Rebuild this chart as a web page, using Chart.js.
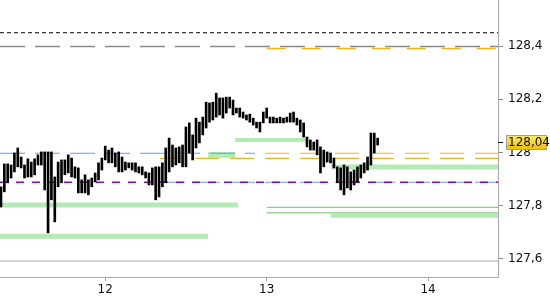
<!DOCTYPE html>
<html>
<head>
<meta charset="utf-8">
<script src="https://cdn.jsdelivr.net/npm/chart.js@4.4.1/dist/chart.umd.min.js"></script>
<style>
  html, body { margin: 0; padding: 0; background: #fff; }
  #wrap { width: 550px; height: 300px; }
</style>
</head>
<body>
<div id="wrap"><canvas id="myChart" width="550" height="300"></canvas></div>
<script>
// 30 minute bars, first bar starts on day 11
const firstBar = 11.354;
const barStep = 1 / 48;

const highs = [
  127.871, 127.957, 127.957, 127.953, 127.998, 128.017, 127.983, 127.953, 127.976, 127.964,
  127.976, 127.991, 128.002, 128.002, 128.002, 128.002, 127.908, 127.964, 127.972, 127.972,
  127.991, 127.979, 127.946, 127.942, 127.897, 127.916, 127.897, 127.904, 127.923, 127.961,
  127.979, 128.024, 128.009, 128.017, 127.998, 128.002, 127.983, 127.964, 127.961, 127.961,
  127.961, 127.946, 127.946, 127.927, 127.923, 127.942, 127.946, 127.946, 127.961, 128.017,
  128.054, 128.028, 128.017, 128.021, 128.028, 128.096, 128.111, 128.066, 128.129, 128.114,
  128.133, 128.189, 128.186, 128.189, 128.223, 128.205, 128.205, 128.208, 128.208, 128.197,
  128.167, 128.167, 128.152, 128.141, 128.144, 128.129, 128.114, 128.114, 128.152, 128.167,
  128.133, 128.133, 128.129, 128.133, 128.129, 128.133, 128.148, 128.152, 128.129, 128.122,
  128.111, 128.058, 128.047, 128.039, 128.047, 128.021, 128.009, 128.002, 127.998, 127.979,
  127.946, 127.942, 127.953, 127.946, 127.927, 127.934, 127.946, 127.953, 127.961, 127.983,
  128.073, 128.073, 128.054
];
const lows = [
  127.795, 127.852, 127.886, 127.904, 127.927, 127.946, 127.942, 127.904, 127.908, 127.908,
  127.916, 127.953, 127.953, 127.859, 127.698, 127.822, 127.739, 127.871, 127.886, 127.916,
  127.923, 127.908, 127.904, 127.848, 127.848, 127.848, 127.841, 127.871, 127.889, 127.897,
  127.934, 127.972, 127.961, 127.961, 127.946, 127.927, 127.927, 127.934, 127.942, 127.934,
  127.927, 127.923, 127.916, 127.904, 127.878, 127.878, 127.822, 127.833, 127.871, 127.886,
  127.927, 127.946, 127.953, 127.961, 127.946, 127.946, 127.998, 127.972, 128.017, 128.036,
  128.066, 128.092, 128.114, 128.122, 128.133, 128.141, 128.129, 128.148, 128.167, 128.141,
  128.148, 128.133, 128.129, 128.122, 128.114, 128.103, 128.092, 128.077, 128.111, 128.129,
  128.111, 128.111, 128.111, 128.111, 128.111, 128.114, 128.114, 128.114, 128.103, 128.077,
  128.058, 128.021, 128.009, 128.009, 127.991, 127.923, 127.946, 127.964, 127.961, 127.942,
  127.886, 127.859, 127.841, 127.867, 127.859, 127.878, 127.889, 127.904, 127.923, 127.934,
  127.953, 127.998, 128.028
];

const lastPrice = 128.04;
const xMin = 11.348, xMax = 14.433;
const yMin = 127.532, yMax = 128.573;
const dayTicks = [12, 13, 14];
const priceTicks = [127.6, 127.8, 128, 128.2, 128.4];

// horizontal levels: price, from, to
const levelPrices = [128.450, 128.398, 128.391, 128.047, 127.997, 127.997, 127.978, 127.991, 127.945, 127.888, 127.888, 127.803, 127.794, 127.773, 127.762, 127.685, 127.592];
const levelFrom   = [xMin,    xMin,    13.0,    12.804,  xMin,    12.99,   12.339,  12.637,  13.399,  xMin,    12.339,  xMin,    13.0,    13.0,    13.399,  xMin,    xMin];
const levelTo     = [xMax,    xMax,    xMax,    13.25,   12.928,  xMax,    xMax,    12.804,  xMax,    xMax,    xMax,    12.823,  xMax,    xMax,    xMax,    12.637,  xMax];
const levelStyle = [
  { c: '#000000', w: 1, d: [4, 3] },
  { c: '#8a8a8a', w: 1.5, d: [25, 10] },
  { c: '#f7b21c', w: 1.5, d: [19, 16] },
  { c: '#b4eab4', w: 4, d: [] },
  { c: '#6a9cf0', w: 1.2, d: [25, 10] },
  { c: '#f7b21c', w: 1.2, d: [24, 11] },
  { c: '#f7b21c', w: 1.2, d: [24, 11] },
  { c: '#b4eab4', w: 6, d: [] },
  { c: '#b4eab4', w: 5, d: [] },
  { c: '#9a00cc', w: 1.5, d: [8, 8] },
  { c: '#6a9cf0', w: 1.2, d: [25, 10] },
  { c: '#b4eab4', w: 5, d: [] },
  { c: '#6cbf6c', w: 1, d: [] },
  { c: '#6cbf6c', w: 1, d: [] },
  { c: '#b4eab4', w: 4, d: [] },
  { c: '#b4eab4', w: 5, d: [] },
  { c: '#aaaaaa', w: 1, d: [] }
];

const bars = highs.map((h, i) => ({ x: firstBar + i * barStep, y: [lows[i], h] }));

const levelSets = levelPrices.map((p, i) => ({
  type: 'line',
  data: [{ x: levelFrom[i], y: p }, { x: levelTo[i], y: p }],
  borderColor: levelStyle[i].c,
  borderWidth: levelStyle[i].w,
  borderDash: levelStyle[i].d,
  pointRadius: 0,
  fill: false
}));

const fmt = v => String(Math.round(v * 100) / 100).replace('.', ',');

const priceTag = {
  id: 'priceTag',
  afterDraw(chart) {
    const ctx = chart.ctx;
    const y = chart.scales.y.getPixelForValue(lastPrice);
    const x0 = chart.chartArea.right;
    ctx.save();
    ctx.strokeStyle = '#000';
    ctx.lineWidth = 1;
    ctx.beginPath();
    ctx.moveTo(x0, Math.round(y) + 0.5);
    ctx.lineTo(x0 + 5, Math.round(y) + 0.5);
    ctx.stroke();
    const g = ctx.createLinearGradient(0, y - 7, 0, y + 7);
    g.addColorStop(0, '#ffe97a');
    g.addColorStop(1, '#f2c200');
    ctx.fillStyle = g;
    ctx.fillRect(x0 + 8, Math.round(y) - 7, 40, 14);
    ctx.strokeStyle = '#a0a0a0';
    ctx.strokeRect(x0 + 8.5, Math.round(y) - 6.5, 40, 14);
    ctx.fillStyle = '#111';
    ctx.font = '12px "DejaVu Sans"';
    ctx.textBaseline = 'middle';
    ctx.fillText(fmt(lastPrice), x0 + 10, Math.round(y) + 0.5);
    ctx.restore();
  }
};

new Chart(document.getElementById('myChart').getContext('2d'), {
  type: 'bar',
  data: {
    datasets: [{
      data: bars,
      backgroundColor: '#000',
      barThickness: 2,
      borderSkipped: false
    }].concat(levelSets)
  },
  options: {
    responsive: false,
    animation: false,
    layout: { padding: 0 },
    plugins: { legend: { display: false }, tooltip: { enabled: false } },
    scales: {
      x: {
        type: 'linear',
        offset: false,
        min: xMin,
        max: xMax,
        afterBuildTicks: s => { s.ticks = dayTicks.map(v => ({ value: v })); },
        afterFit: s => { s.height = 23; s.paddingLeft = 0; s.paddingRight = 0; },
        grid: { drawOnChartArea: false, offset: false, tickLength: 4, color: '#aaa' },
        border: { color: '#aaa' },
        ticks: { padding: 2, color: '#111', font: { family: 'DejaVu Sans', size: 12 }, maxRotation: 0 }
      },
      y: {
        position: 'right',
        min: yMin,
        max: yMax,
        afterBuildTicks: s => { s.ticks = priceTicks.map(v => ({ value: v })); },
        afterFit: s => { s.width = 52; s.paddingTop = 0; s.paddingBottom = 0; },
        grid: { drawOnChartArea: false, tickLength: 5, color: '#888' },
        border: { color: '#aaa' },
        ticks: { padding: 5, color: '#111', font: { family: 'DejaVu Sans', size: 12 }, callback: v => fmt(v) }
      }
    }
  },
  plugins: [priceTag]
});
</script>
</body>
</html>
